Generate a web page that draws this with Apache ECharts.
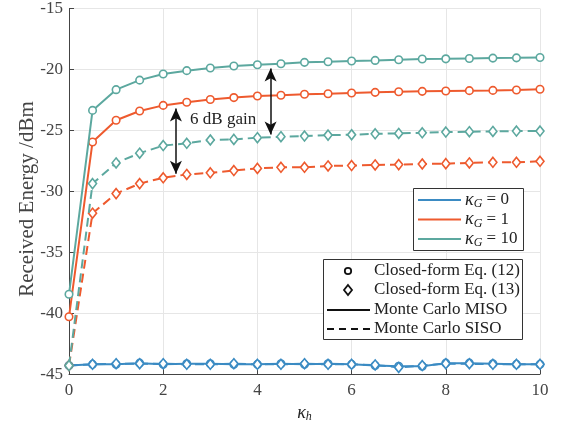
<!DOCTYPE html>
<html><head><meta charset="utf-8">
<script src="https://cdn.jsdelivr.net/npm/echarts@6/dist/echarts.min.js"></script>
<style>html,body{margin:0;padding:0;background:#fff}#c{width:563px;height:428px}</style>
</head><body><div id="c"></div>
<script>
const kh = [0,0.5,1,1.5,2,2.5,3,3.5,4,4.5,5,5.5,6,6.5,7,7.5,8,8.5,9,9.5,10];
const miso0 = [-44.3,-44.2,-44.2,-44.1,-44.2,-44.15,-44.15,-44.2,-44.2,-44.15,-44.2,-44.15,-44.2,-44.3,-44.35,-44.35,-44.1,-44.1,-44.15,-44.2,-44.2];
const siso0 = [-44.3,-44.2,-44.15,-44.15,-44.15,-44.2,-44.2,-44.15,-44.2,-44.2,-44.15,-44.2,-44.2,-44.25,-44.45,-44.3,-44.15,-44.15,-44.2,-44.2,-44.2];
const miso1 = [-40.3,-25.95,-24.17,-23.41,-22.95,-22.69,-22.47,-22.31,-22.18,-22.12,-22.04,-21.99,-21.93,-21.88,-21.83,-21.80,-21.77,-21.74,-21.72,-21.69,-21.63];
const siso1 = [-44.3,-31.8,-30.19,-29.37,-28.89,-28.62,-28.48,-28.3,-28.12,-28.03,-28.03,-27.92,-27.89,-27.84,-27.81,-27.76,-27.73,-27.67,-27.62,-27.62,-27.54];
const miso10 = [-38.45,-23.36,-21.66,-20.88,-20.37,-20.1,-19.88,-19.72,-19.62,-19.53,-19.42,-19.37,-19.31,-19.26,-19.2,-19.15,-19.13,-19.1,-19.07,-19.05,-19.02];
const siso10 = [-44.3,-29.37,-27.67,-26.87,-26.25,-26.06,-25.79,-25.74,-25.6,-25.52,-25.47,-25.39,-25.36,-25.28,-25.25,-25.2,-25.14,-25.11,-25.09,-25.06,-25.06];
const arrows = [[2.27,-23.2,-28.57],[4.28,-19.93,-25.33]];
const gainText = {x:2.57, y:-24.15, text:'6 dB gain'};

const C = {b:'#3b8bc3', o:'#ee5a2e', t:'#5ca89f'};
const SERIF = '"Liberation Serif","DejaVu Serif",serif';
const pair = a => kh.map((x,i)=>[x,a[i]]);

function mk(data, color, dashed, z){
  return {
    type:'line', data:pair(data), z:z,
    symbol: dashed ? 'diamond' : 'circle',
    symbolSize: dashed ? [8,10] : 7.5,
    showAllSymbol:true,
    lineStyle:{color:color, width:2, type: dashed ? [9,5] : 'solid'},
    itemStyle:{color:'#fff', borderColor:color, borderWidth:1.6},
    emphasis:{disabled:true}, animation:false
  };
}
const series = [
  mk(miso0,C.b,false,2), mk(siso0,C.b,true,2),
  mk(miso1,C.o,false,3), mk(siso1,C.o,true,3),
  mk(miso10,C.t,false,4), mk(siso10,C.t,true,4)
];
series.push({
  type:'line', data:[], z:6, animation:false,
  markLine:{silent:true, animation:false, symbol:['arrow','arrow'], symbolSize:[9,13],
    lineStyle:{color:'#111', width:1.5, type:'solid'}, label:{show:false},
    data: arrows.map(a=>[{coord:[a[0],a[1]]},{coord:[a[0],a[2]]}])},
  markPoint:{silent:true, animation:false, symbol:'circle', symbolSize:0,
    data:[{coord:[gainText.x,gainText.y]}],
    label:{show:true, position:'right', distance:0, formatter:gainText.text, color:'#222', fontSize:17, fontFamily:SERIF}}
});

const mathRich = {
  k:{fontFamily:SERIF, fontStyle:'italic', fontSize:18, color:'#222'},
  s:{fontFamily:SERIF, fontStyle:'italic', fontSize:12, color:'#222', verticalAlign:'bottom', padding:[8,0,0,0]},
  r:{fontFamily:SERIF, fontSize:17, color:'#222'}
};

function legendLine(x1,x2,y,color,dash){
  return {type:'line', shape:{x1:x1,y1:y,x2:x2,y2:y}, style:{stroke:color,lineWidth:2,lineDash:dash||null}};
}
function legendText(x,y,txt,rich){
  return {type:'text', x:x, y:y, style:{text:txt, rich:rich||{}, fill:'#222', font:'17px '+SERIF, verticalAlign:'middle', align:'left'}};
}
const graphic = [
  {type:'rect', shape:{x:413.5,y:188.5,width:110,height:62}, style:{fill:'#fff',stroke:'#333',lineWidth:1}, z:10},
  Object.assign(legendLine(418,461,200,C.b),{z:11}),
  Object.assign(legendLine(418,461,219.5,C.o),{z:11}),
  Object.assign(legendLine(418,461,239,C.t),{z:11}),
  Object.assign(legendText(465,200,'{k|κ}{s|G}{r| = 0}',mathRich),{z:11}),
  Object.assign(legendText(465,219.5,'{k|κ}{s|G}{r| = 1}',mathRich),{z:11}),
  Object.assign(legendText(465,239,'{k|κ}{s|G}{r| = 10}',mathRich),{z:11}),
  {type:'rect', shape:{x:323.5,y:259.5,width:199,height:80}, style:{fill:'#fff',stroke:'#333',lineWidth:1}, z:10},
  {type:'circle', shape:{cx:348,cy:271,r:3.2}, style:{fill:'#fff',stroke:'#111',lineWidth:1.8}, z:11},
  {type:'polygon', shape:{points:[[348,285],[352,290],[348,295],[344,290]]}, style:{fill:'#fff',stroke:'#111',lineWidth:1.8}, z:11},
  Object.assign(legendLine(327,370,310,'#111'),{z:11}),
  Object.assign(legendLine(327,370,329,'#111',[7,5]),{z:11}),
  Object.assign(legendText(374,271,'Closed-form Eq. (12)'),{z:11}),
  Object.assign(legendText(374,290,'Closed-form Eq. (13)'),{z:11}),
  Object.assign(legendText(374,310,'Monte Carlo MISO'),{z:11}),
  Object.assign(legendText(374,329,'Monte Carlo SISO'),{z:11}),
  {type:'text', x:27, y:199, rotation:Math.PI/2, z:11,
   style:{text:'Received Energy /dBm', fill:'#444', font:'21px '+SERIF, align:'center', verticalAlign:'middle'}}
];

const axisCommon = {
  axisLine:{show:true, onZero:false, lineStyle:{color:'#444', width:1}},
  axisTick:{show:true, inside:true, length:5, lineStyle:{color:'#444'}},
  splitLine:{show:true, lineStyle:{color:'#e6e6e6', width:1}}
};
const chart = echarts.init(document.getElementById('c'), null, {renderer:'canvas'});
chart.setOption({
  animation:false,
  backgroundColor:'#fff',
  grid:{left:69, right:23, top:5, bottom:52, containLabel:false},
  xAxis:Object.assign({type:'value', min:0, max:10, interval:2,
    name:'{k|κ}{s|h}', nameLocation:'middle', nameGap:25,
    nameTextStyle:{fontSize:18, fontFamily:SERIF, fontStyle:'italic', color:'#222', rich:mathRich}}, axisCommon,
    {axisLabel:{color:'#444', fontSize:17, fontFamily:SERIF, margin:8}}),
  yAxis:Object.assign({type:'value', min:-45, max:-15, interval:5}, axisCommon,
    {axisLabel:{color:'#444', fontSize:17, fontFamily:SERIF, margin:6}}),
  series:series,
  graphic:graphic
});
</script></body></html>
